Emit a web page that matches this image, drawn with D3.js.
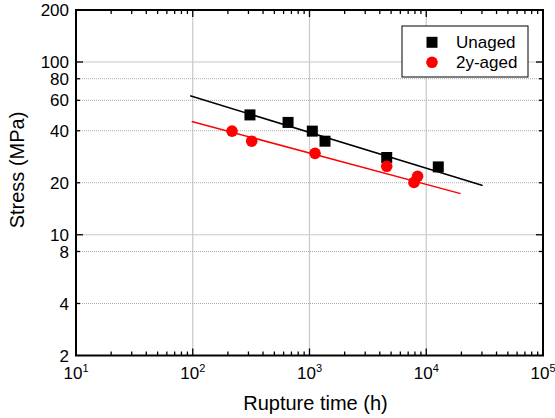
<!doctype html>
<html>
<head>
<meta charset="utf-8">
<title>Stress vs rupture time</title>
<script src="https://cdn.jsdelivr.net/npm/d3@7"></script>
<style>
    body { margin: 0; background: white; }
    text { font-family: Arial, "Liberation Sans", sans-serif; fill: black; }
    .tick-label { font-size: 17px; }
    .axis-title { font-size: 20px; }
    .legend text { font-size: 17px; }
</style>
</head>
<body>
<script>
    // Unaged specimens: rupture time (h) and stress (MPa)
    const unagedTime = [309, 655, 1057, 1358, 4585, 12680];
    const unagedStress = [49.4, 44.7, 39.8, 34.8, 28.0, 24.7];
    // 2 year aged specimens
    const agedTime = [217, 320, 1115, 4585, 8430, 7850];
    const agedStress = [39.8, 34.8, 29.6, 24.9, 21.8, 20.1];
    // fitted lines (end points)
    const unagedFitTime = [95, 30400];
    const unagedFitStress = [63.7, 19.3];
    const agedFitTime = [98, 19700];
    const agedFitStress = [45.3, 17.3];

    const xDecades = [1e1, 1e2, 1e3, 1e4, 1e5];
    const xExponents = ["1", "2", "3", "4", "5"];
    const yLabels = [200, 100, 80, 60, 40, 20, 10, 8, 4, 2];
    const yMajor = [100, 10];
    const yDotted = [80, 60, 40, 20, 8, 4];

    const width = 555, height = 418;
    const plotLeft = 76, plotRight = 543, plotTop = 10, plotBottom = 355.5;

    const svg = d3.select("body").append("svg")
        .attr("width", width)
        .attr("height", height);

    const x = d3.scaleLog().domain([10, 1e5]).range([plotLeft, plotRight]);
    const y = d3.scaleLog().domain([2, 200]).range([plotBottom, plotTop]);

    // grid
    const grid = svg.append("g");
    grid.selectAll(".vgrid")
        .data([1e2, 1e3, 1e4])
        .join("line")
        .attr("x1", d => x(d)).attr("x2", d => x(d))
        .attr("y1", plotTop).attr("y2", plotBottom)
        .attr("stroke", "#c8c8c8").attr("stroke-width", 1.2);
    grid.selectAll(".hgrid")
        .data(yMajor)
        .join("line")
        .attr("x1", plotLeft).attr("x2", plotRight)
        .attr("y1", d => y(d)).attr("y2", d => y(d))
        .attr("stroke", "#c8c8c8").attr("stroke-width", 1.2);
    grid.selectAll(".hdot")
        .data(yDotted)
        .join("line")
        .attr("x1", plotLeft).attr("x2", plotRight)
        .attr("y1", d => y(d)).attr("y2", d => y(d))
        .attr("stroke", "#aaa").attr("stroke-width", 1)
        .attr("stroke-dasharray", "1,1");

    // ticks
    const ticks = svg.append("g").attr("stroke", "black").attr("stroke-width", 1.3);
    const xMinor = [];
    for (let dec = 10; dec < 1e5; dec *= 10)
        for (let m = 2; m <= 9; m++) xMinor.push(dec * m);
    [[plotBottom, -1], [plotTop, 1]].forEach(([yy, dir]) => {
        ticks.selectAll(null).data(xDecades).join("line")
            .attr("x1", d => x(d)).attr("x2", d => x(d))
            .attr("y1", yy).attr("y2", yy + dir * 7);
        ticks.selectAll(null).data(xMinor).join("line")
            .attr("x1", d => x(d)).attr("x2", d => x(d))
            .attr("y1", yy).attr("y2", yy + dir * 4);
    });
    [[plotLeft, 1], [plotRight, -1]].forEach(([xx, dir]) => {
        ticks.selectAll(null).data(yMajor).join("line")
            .attr("x1", xx).attr("x2", xx + dir * 7)
            .attr("y1", d => y(d)).attr("y2", d => y(d));
        ticks.selectAll(null).data(yDotted).join("line")
            .attr("x1", xx).attr("x2", xx + dir * 4)
            .attr("y1", d => y(d)).attr("y2", d => y(d));
    });

    // frame
    svg.append("rect")
        .attr("x", plotLeft).attr("y", plotTop)
        .attr("width", plotRight - plotLeft).attr("height", plotBottom - plotTop)
        .attr("fill", "none").attr("stroke", "black").attr("stroke-width", 2);

    // tick labels
    svg.selectAll(".ylab")
        .data(yLabels)
        .join("text")
        .attr("class", "tick-label")
        .attr("x", plotLeft - 7)
        .attr("y", d => y(d))
        .attr("dy", "0.36em")
        .attr("text-anchor", "end")
        .text(d => d);

    const xl = svg.selectAll(".xlab")
        .data(xDecades)
        .join("text")
        .attr("class", "tick-label")
        .attr("x", d => x(d))
        .attr("y", 379)
        .attr("text-anchor", "middle");
    xl.append("tspan").text("10");
    xl.append("tspan")
        .attr("dy", -7)
        .attr("font-size", "11px")
        .text((d, i) => xExponents[i]);

    // axis titles
    svg.append("text")
        .attr("class", "axis-title")
        .attr("x", (plotLeft + plotRight) / 2 + 6)
        .attr("y", 410)
        .attr("text-anchor", "middle")
        .text("Rupture time (h)");
    svg.append("text")
        .attr("class", "axis-title")
        .attr("transform", `translate(24, 170) rotate(-90)`)
        .attr("text-anchor", "middle")
        .text("Stress (MPa)");

    // fitted lines
    const line = d3.line().x(d => x(d[0])).y(d => y(d[1]));
    svg.append("path")
        .attr("d", line(d3.zip(unagedFitTime, unagedFitStress)))
        .attr("stroke", "black").attr("stroke-width", 1.5).attr("fill", "none");
    svg.append("path")
        .attr("d", line(d3.zip(agedFitTime, agedFitStress)))
        .attr("stroke", "red").attr("stroke-width", 1.5).attr("fill", "none");

    // points
    const sq = 11, r = 5.8;
    svg.selectAll(".unaged")
        .data(d3.zip(unagedTime, unagedStress))
        .join("rect")
        .attr("x", d => x(d[0]) - sq / 2)
        .attr("y", d => y(d[1]) - sq / 2)
        .attr("width", sq).attr("height", sq)
        .attr("fill", "black");
    svg.selectAll(".aged")
        .data(d3.zip(agedTime, agedStress))
        .join("circle")
        .attr("cx", d => x(d[0]))
        .attr("cy", d => y(d[1]))
        .attr("r", r)
        .attr("fill", "red");

    // legend
    const legend = svg.append("g").attr("class", "legend");
    legend.append("rect")
        .attr("x", 402).attr("y", 26)
        .attr("width", 126).attr("height", 51)
        .attr("fill", "white").attr("stroke", "black").attr("stroke-width", 1);
    legend.append("rect")
        .attr("x", 432 - sq / 2).attr("y", 42.3 - sq / 2)
        .attr("width", sq).attr("height", sq).attr("fill", "black");
    legend.append("circle")
        .attr("cx", 432).attr("cy", 62.3).attr("r", r).attr("fill", "red");
    legend.append("text").attr("x", 456).attr("y", 42.3).attr("dy", "0.36em").text("Unaged");
    legend.append("text").attr("x", 456).attr("y", 62.3).attr("dy", "0.36em").text("2y-aged");
</script>
</body>
</html>
